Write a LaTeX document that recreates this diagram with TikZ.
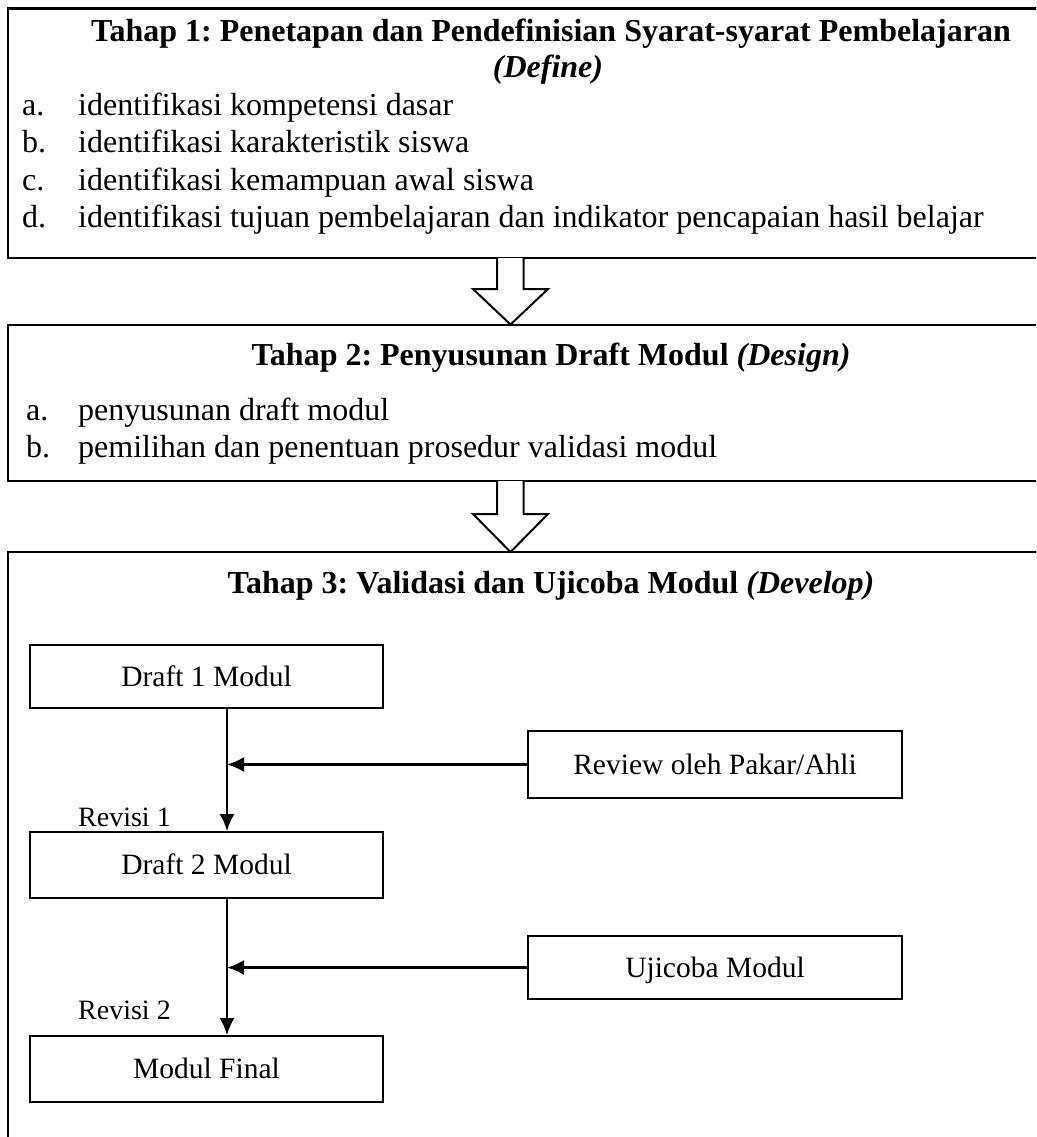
\documentclass[tikz,border=0pt]{standalone}
\usepackage{fontspec}
\setmainfont{Liberation Serif}
\usetikzlibrary{arrows.meta}
\begin{document}
\frenchspacing
\begin{tikzpicture}[x=1pt,y=-1pt,
  txt/.style={inner sep=0pt,font=\fontsize{32}{37}\selectfont},
  small/.style={inner sep=0pt,font=\fontsize{28}{34}\selectfont},
  outerbox/.style={draw,line width=2.2pt,rectangle,inner sep=0pt},
  innerbox/.style={draw,line width=2pt,rectangle,inner sep=0pt,font=\fontsize{29.5}{35}\selectfont,text height=20pt,text depth=1pt},
  conn/.style={line width=2.2pt,-{Latex[length=17pt,width=15pt]}},
  blockarrow/.style={draw,line width=2pt,fill=white,line join=miter}]
\useasboundingbox (0,0) rectangle (1036,1137);
\clip (0,0) rectangle (1036,1137);
\fill[white] (0,0) rectangle (1036,1137);
% outer boxes
\node[outerbox,minimum width=1086pt,minimum height=249.5pt] (b1) at (551,133.25) {};
\node[outerbox,minimum width=1086pt,minimum height=156pt] (b2) at (551,403) {};
\node[outerbox,minimum width=1086pt,minimum height=700pt] (b3) at (551,902) {};
% block arrows
\draw[blockarrow] (497,258) -- (497,289) -- (473,289) -- (510.5,324.5) -- (548,289) -- (523.5,289) -- (523.5,258);
\draw[blockarrow] (497,481) -- (497,514) -- (473,514) -- (510.5,552) -- (548,514) -- (523.5,514) -- (523.5,481);
% stage 1
\node[txt,anchor=base] (t1) at (551,42) {\bfseries Tahap 1: Penetapan dan Pendefinisian Syarat-syarat Pembelajaran};
\node[txt,anchor=base] (t1b) at (548,78) {\bfseries\itshape (Define)};
\node[txt,anchor=base west] (l1a) at (22,116) {a.};
\node[txt,anchor=base west] (i1a) at (78,116) {identifikasi kompetensi dasar};
\node[txt,anchor=base west] (l1b) at (22,153) {b.};
\node[txt,anchor=base west] (i1b) at (78,153) {identifikasi karakteristik siswa};
\node[txt,anchor=base west] (l1c) at (22,190) {c.};
\node[txt,anchor=base west] (i1c) at (78,190) {identifikasi kemampuan awal siswa};
\node[txt,anchor=base west] (l1d) at (22,227) {d.};
\node[txt,anchor=base west] (i1d) at (78,227) {identifikasi tujuan pembelajaran dan indikator pencapaian hasil belajar};
% stage 2
\node[txt,anchor=base] (t2) at (551,365) {\bfseries Tahap 2: Penyusunan Draft Modul \itshape (Design)};
\node[txt,anchor=base west] (l2a) at (26,420) {a.};
\node[txt,anchor=base west] (i2a) at (78,420) {penyusunan draft modul};
\node[txt,anchor=base west] (l2b) at (26,457) {b.};
\node[txt,anchor=base west] (i2b) at (78,457) {pemilihan dan penentuan prosedur validasi modul};
% stage 3
\node[txt,anchor=base] (t3) at (551,593) {\bfseries Tahap 3: Validasi dan Ujicoba Modul \itshape (Develop)};
\node[innerbox,minimum width=353pt,minimum height=63pt] (d1) at (206.5,676.5) {Draft 1 Modul};
\node[innerbox,minimum width=374pt,minimum height=67pt] (rev) at (715,764.5) {Review oleh Pakar/Ahli};
\node[innerbox,minimum width=353pt,minimum height=66pt] (d2) at (206.5,865) {Draft 2 Modul};
\node[innerbox,minimum width=374pt,minimum height=63pt] (uji) at (715,967.5) {Ujicoba Modul};
\node[innerbox,minimum width=353pt,minimum height=66pt] (mf) at (206.5,1069) {Modul Final};
\node[small,anchor=base west] (r1) at (78,826) {Revisi 1};
\node[small,anchor=base west] (r2) at (78,1019) {Revisi 2};
\coordinate (vx) at (227,0);
\draw[conn] (d1.south -| vx) -- (d2.north -| vx);
\draw[conn] (d2.south -| vx) -- (mf.north -| vx);
\draw[conn] (rev.west) -- (rev.west -| vx);
\draw[conn] (uji.west) -- (uji.west -| vx);
\end{tikzpicture}
\end{document}
